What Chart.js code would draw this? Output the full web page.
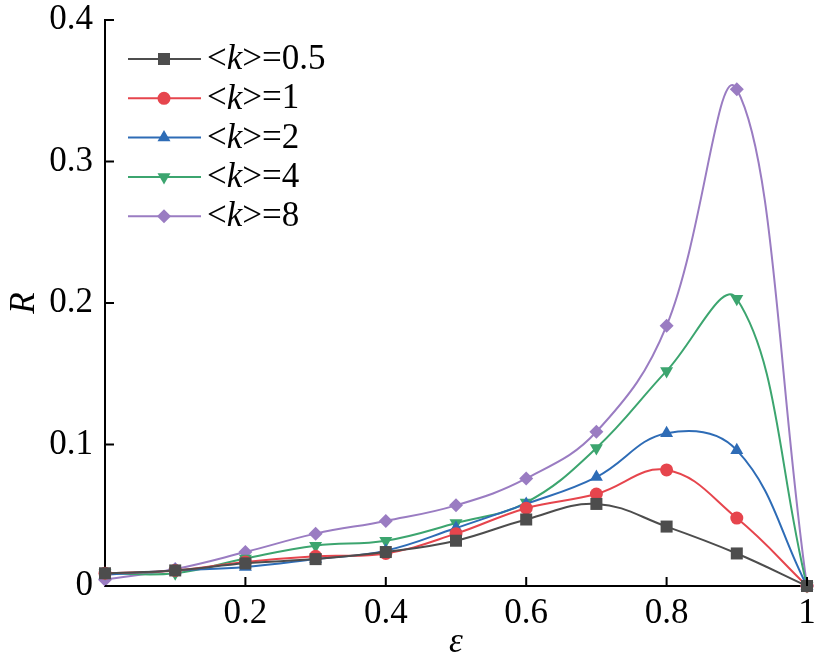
<!DOCTYPE html>
<html>
<head>
<meta charset="utf-8">
<script src="https://cdn.jsdelivr.net/npm/chart.js@4.4.1/dist/chart.umd.min.js"></script>
<style>
  html, body { margin: 0; padding: 0; background: #fff; }
  #wrap { width: 816px; height: 664px; }
</style>
</head>
<body>
<div id="wrap"><canvas id="rChart"></canvas></div>
<script>
// R vs epsilon for different mean degrees

const epsValues = [0, 0.1, 0.2, 0.3, 0.4, 0.5, 0.6, 0.7, 0.8, 0.9, 1];
const yTicks = [0, 0.1, 0.2, 0.3, 0.4];
const xTicks = [0.2, 0.4, 0.6, 0.8, 1];

const seriesLabels = ['<k>=0.5', '<k>=1', '<k>=2', '<k>=4', '<k>=8'];
const rK05 = [0.009, 0.011, 0.016, 0.019, 0.024, 0.032, 0.047, 0.058, 0.042, 0.023, 0];
const rK1 = [0.009, 0.011, 0.017, 0.021, 0.023, 0.037, 0.055, 0.065, 0.082, 0.048, 0];
const rK2 = [0.008, 0.011, 0.0135, 0.019, 0.025, 0.041, 0.058, 0.077, 0.108, 0.096, 0];
const rK4 = [0.009, 0.009, 0.0195, 0.0285, 0.032, 0.0445, 0.059, 0.0975, 0.152, 0.203, 0];
const rK8 = [0.0045, 0.012, 0.024, 0.037, 0.046, 0.057, 0.076, 0.109, 0.184, 0.351, 0];

const FONT = '"Liberation Serif", "Times New Roman", serif';
const FSIZE = 35;

function pts(arr) {
    return arr.map(function (v, i) { return { x: epsValues[i], y: v }; });
}

function makeSet(label, data, color, style, size, rot) {
    return {
        label: label,
        data: pts(data),
        borderColor: color,
        backgroundColor: color,
        pointBackgroundColor: color,
        pointBorderColor: color,
        pointBorderWidth: 0,
        pointStyle: style,
        pointRadius: size,
        pointRotation: rot || 0,
        borderWidth: 2,
        tension: 0.4,
        clip: false
    };
}

// inward tick marks
const innerTicks = {
    id: 'innerTicks',
    afterDraw: function (chart) {
        const c = chart.ctx;
        const xs = chart.scales.x, ys = chart.scales.y;
        const a = chart.chartArea;
        c.save();
        c.strokeStyle = '#000';
        c.lineWidth = 2;
        c.beginPath();
        xTicks.forEach(function (t) {
            const px = xs.getPixelForValue(t);
            c.moveTo(px, a.bottom);
            c.lineTo(px, a.bottom - 9);
        });
        yTicks.forEach(function (t) {
            const py = ys.getPixelForValue(t);
            c.moveTo(a.left, py);
            c.lineTo(a.left + 9, py);
        });
        c.stroke();
        c.restore();
    }
};

// legend with italic k
const kLegend = {
    id: 'kLegend',
    afterDraw: function (chart) {
        const c = chart.ctx;
        c.save();
        chart.data.datasets.forEach(function (ds, i) {
            const y = 59 + i * 39.3;
            c.strokeStyle = ds.borderColor;
            c.lineWidth = 2;
            c.beginPath();
            c.moveTo(128, y);
            c.lineTo(201, y);
            c.stroke();
            c.fillStyle = ds.pointBackgroundColor;
            Chart.helpers.drawPoint(c, {
                pointStyle: ds.pointStyle,
                radius: ds.pointRadius,
                rotation: ds.pointRotation,
                borderWidth: 0
            }, 164, y);

            const m = ds.label.match(/^<k>(.*)$/);
            c.fillStyle = '#000';
            c.textBaseline = 'middle';
            c.textAlign = 'left';
            let x = 207;
            c.font = FSIZE + 'px ' + FONT;
            c.fillText('<', x, y + 1);
            x += c.measureText('<').width;
            c.font = 'italic ' + FSIZE + 'px ' + FONT;
            c.fillText('k', x, y + 1);
            x += c.measureText('k').width;
            c.font = FSIZE + 'px ' + FONT;
            c.fillText('>' + m[1], x, y + 1);
        });
        c.restore();
    }
};

const ctx = document.getElementById('rChart').getContext('2d');

new Chart(ctx, {
    type: 'line',
    data: {
        datasets: [
            makeSet(seriesLabels[0], rK05, '#4d4d4d', 'rect', 8.5),
            makeSet(seriesLabels[1], rK1, '#e6454d', 'circle', 6.5),
            makeSet(seriesLabels[2], rK2, '#2e6cb6', 'triangle', 7.5),
            makeSet(seriesLabels[3], rK4, '#3ca56f', 'triangle', 7.5, 180),
            makeSet(seriesLabels[4], rK8, '#9a7cc2', 'rectRot', 7)
        ]
    },
    options: {
        responsive: true,
        maintainAspectRatio: false,
        animation: false,
        layout: { padding: { top: 20, right: 9, bottom: 0, left: 0 } },
        plugins: {
            legend: { display: false },
            tooltip: { enabled: false }
        },
        scales: {
            x: {
                type: 'linear',
                min: 0,
                max: 1,
                afterFit: function (s) {
                    s.height = 78;
                    s.paddingLeft = 0;
                    s.paddingRight = 0;
                },
                afterBuildTicks: function (s) {
                    s.ticks = [0].concat(xTicks).map(function (v) { return { value: v }; });
                },
                grid: { display: false, drawTicks: false },
                border: { display: true, color: '#000', width: 2 },
                ticks: {
                    padding: 7,
                    color: '#000',
                    maxRotation: 0,
                    font: { family: FONT, size: FSIZE },
                    callback: function (v) { return v === 0 ? '' : String(Number(v.toFixed(1))); }
                },
                title: {
                    display: true,
                    text: 'ε',
                    color: '#000',
                    padding: { top: -10, bottom: 0 },
                    font: { family: FONT, size: FSIZE, style: 'italic' }
                }
            },
            y: {
                type: 'linear',
                min: 0,
                max: 0.4,
                afterFit: function (s) {
                    s.width = 105;
                    s.paddingTop = 0;
                    s.paddingBottom = 0;
                },
                afterBuildTicks: function (s) {
                    s.ticks = yTicks.map(function (v) { return { value: v }; });
                },
                grid: { display: false, drawTicks: false },
                border: { display: true, color: '#000', width: 2 },
                ticks: {
                    padding: 12,
                    color: '#000',
                    font: { family: FONT, size: FSIZE },
                    callback: function (v) { return String(Number(v.toFixed(1))); }
                },
                title: {
                    display: true,
                    text: 'R',
                    color: '#000',
                    padding: { top: 4, bottom: 0 },
                    font: { family: FONT, size: FSIZE, style: 'italic' }
                }
            }
        }
    },
    plugins: [innerTicks, kLegend]
});
</script>
</body>
</html>
